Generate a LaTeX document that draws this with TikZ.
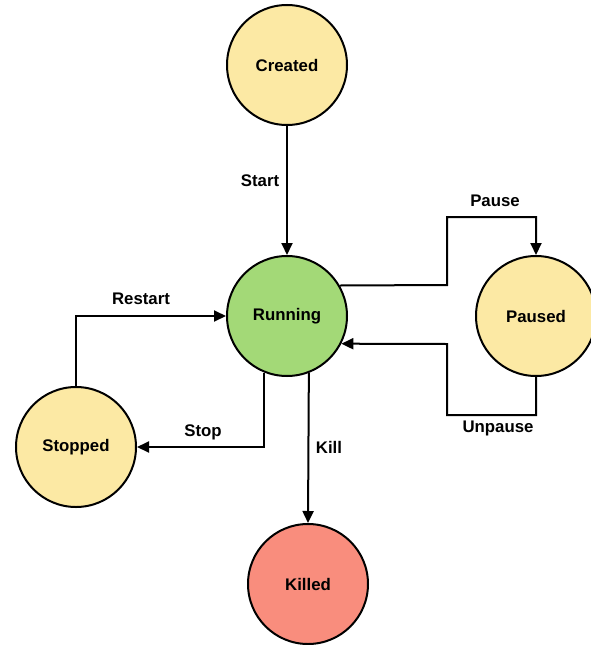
\documentclass[tikz,border=0pt]{standalone}
\usepackage{fontspec}
\setmainfont{Liberation Sans}
\usetikzlibrary{arrows.meta}
\definecolor{stateyellow}{RGB}{252,233,164}
\definecolor{stategreen}{RGB}{163,217,119}
\definecolor{statered}{RGB}{249,141,125}
\begin{document}
\begin{tikzpicture}[x=1pt,y=-1pt,
  state/.style={circle,draw=black,line width=2pt,minimum size=120pt,inner sep=0pt,
    font=\fontsize{16.8}{20}\selectfont\bfseries},
  trans/.style={line width=2pt,-{Triangle[length=12pt,width=11pt]}},
  lbl/.style={font=\fontsize{16.8}{20}\selectfont\bfseries,inner sep=0pt}]
\useasboundingbox (0,0) rectangle (591,645);

% states
\node[state,fill=stateyellow] (created) at (287,65) {Created};
\node[state,fill=stategreen] (run) at (287,316) {Running};
\node[state,fill=stateyellow] (paused) at (536,316) {Paused};
\node[state,fill=stateyellow] (stopped) at (76,447) {Stopped};
\node[state,fill=statered] (killed) at (308,584) {Killed};

% bend points
\coordinate (pa) at (447,285);
\coordinate (pb) at (447,217);
\coordinate (ua) at (447,415);
\coordinate (ub) at (447,344);

% transitions
\draw[trans] (created.south) -- (run.north);
\draw[trans] (run.30.5) -- (pa) -- (pb) -| (paused.north);
\draw[trans] (paused.south) |- (ua) -- (ub) -- (run.-27.3);
\draw[trans] (stopped.north) |- (run.west);
\draw[trans] (run.-112.2) |- (stopped.east);
\draw[trans] (run.-69.9) -- (killed.north);

% labels
\node[lbl] (lstart) at (260,181) {Start};
\node[lbl] (lpause) at (495,201) {Pause};
\node[lbl] (lunpause) at (498,428) {Unpause};
\node[lbl] (lrestart) at (141,299) {Restart};
\node[lbl] (lstop) at (203,432) {Stop};
\node[lbl] (lkill) at (329,447) {Kill};
\end{tikzpicture}
\end{document}
